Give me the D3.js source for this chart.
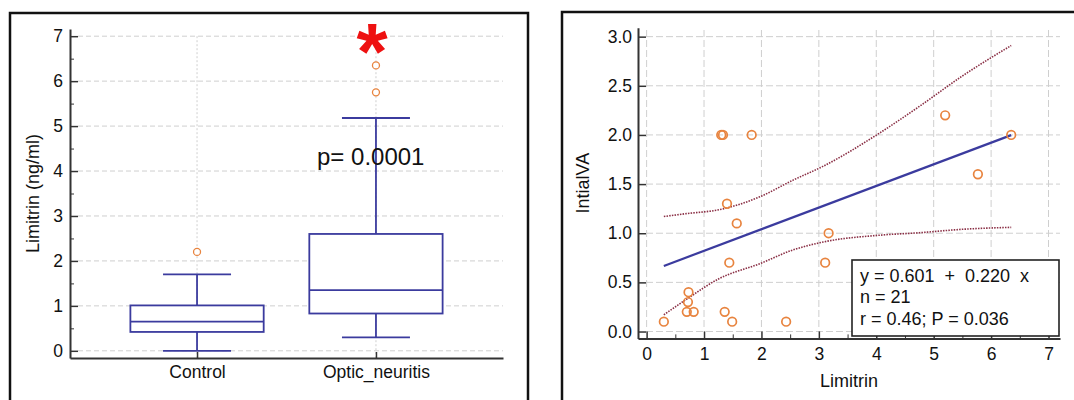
<!DOCTYPE html>
<html>
<head>
<meta charset="utf-8">
<script src="https://cdn.jsdelivr.net/npm/d3@7"></script>
<style>
  body { margin: 0; background: #fff; }
  svg { display: block; font-family: "Liberation Sans", Arial, sans-serif; }
  .grid line { stroke: #cfcfcf; stroke-width: 1; }
  .axis path, .axis line { stroke: #333; }
  .axis path { stroke-width: 2; }
  .axis text { fill: #111; }
</style>
</head>
<body>
<div id="container"></div>
<script>
// ---- left panel: box plot data ----
var categories = ["Control", "Optic_neuritis"];
var boxMin = [0, 0.3];
var boxQ1 = [0.42, 0.83];
var boxMedian = [0.65, 1.35];
var boxQ3 = [1.01, 2.6];
var boxMax = [1.7, 5.18];
var boxOutliers = [[2.2], [5.75, 6.35]];
var leftTicks = [0, 1, 2, 3, 4, 5, 6, 7];
var leftMinor = [0.5, 1.5, 2.5, 3.5, 4.5, 5.5, 6.5];

// ---- right panel: scatter data ----
var scatterX = [0.3, 0.73, 0.72, 0.7, 0.82, 1.3, 1.33, 1.83, 1.4, 1.57, 1.44, 1.36, 1.49, 2.43, 3.17, 3.11, 5.2, 5.77, 6.35];
var scatterY = [0.1, 0.4, 0.3, 0.2, 0.2, 2.0, 2.0, 2.0, 1.3, 1.1, 0.7, 0.2, 0.1, 0.1, 1.0, 0.7, 2.2, 1.6, 2.0];
var fitX = [0.3, 6.35];
var fitY = [0.667, 1.998];
var bandX = [0.3, 0.7, 1.27, 1.97, 2.55, 3.07, 4.06, 4.75, 5.5, 6.35];
var upperY = [1.17, 1.2, 1.24, 1.37, 1.54, 1.68, 2.02, 2.29, 2.6, 2.91];
var lowerY = [0.17, 0.33, 0.54, 0.69, 0.83, 0.91, 0.98, 1.005, 1.04, 1.06];
var rightYTicks = [0, 0.5, 1, 1.5, 2, 2.5, 3];
var rightXTicks = [0, 1, 2, 3, 4, 5, 6, 7];
var rightXMinor = [0.5, 1.5, 2.5, 3.5, 4.5, 5.5, 6.5];
var statLines = ["y = 0.601  +  0.220  x", "n = 21", "r = 0.46; P = 0.036"];

var boxColor = "#3b3b9e", dotColor = "#e8843f";

var svg = d3.select("#container").append("svg")
    .attr("width", 1074).attr("height", 400);
svg.append("rect").attr("width", 1074).attr("height", 400).attr("fill", "#fff");

// panel frames
svg.append("rect").attr("x", 10).attr("y", 13).attr("width", 518).attr("height", 400)
    .attr("fill", "none").attr("stroke", "#111").attr("stroke-width", 2.5);
svg.append("rect").attr("x", 562).attr("y", 12).attr("width", 530).attr("height", 400)
    .attr("fill", "none").attr("stroke", "#111").attr("stroke-width", 2.5);

// =================== left: box plot ===================
var yL = d3.scaleLinear().domain([-0.16, 7.16]).range([358, 29]);
var xL = d3.scalePoint().domain(categories).range([70, 503]).padding(0.71);
var step = xL.step();

var gl = svg.append("g");
gl.append("g").attr("class", "grid").selectAll("line").data(leftTicks).join("line")
    .attr("x1", 78).attr("x2", 503).attr("y1", function(d){ return yL(d); }).attr("y2", function(d){ return yL(d); })
    .attr("stroke-dasharray", "5,3");
gl.append("g").attr("class", "grid").selectAll("line").data(categories).join("line")
    .attr("x1", function(d){ return xL(d); }).attr("x2", function(d){ return xL(d); })
    .attr("y1", yL(7)).attr("y2", 358).attr("stroke-dasharray", "2,2");

gl.append("g").attr("class", "axis").attr("transform", "translate(70,0)")
    .call(d3.axisLeft(yL).tickValues(leftTicks).tickSizeInner(-8).tickSizeOuter(0).tickPadding(7))
    .call(function(g){ g.selectAll("text").attr("font-size", 17.5); g.selectAll(".tick line").attr("stroke-width", 1.5); });
gl.append("g").attr("class", "axis").attr("transform", "translate(70,0)")
    .call(d3.axisLeft(yL).tickValues(leftMinor).tickSizeInner(-4).tickSizeOuter(0).tickFormat(""))
    .call(function(g){ g.select(".domain").remove(); });
gl.append("g").attr("class", "axis").attr("transform", "translate(0,358)")
    .call(d3.axisBottom(xL).tickSizeInner(-6).tickSizeOuter(0).tickPadding(8))
    .call(function(g){ g.selectAll("text").attr("font-size", 17.5); g.selectAll(".tick line").attr("stroke-width", 1.5); });

gl.append("text").attr("transform", "translate(33," + ((358 + 29) / 2) + ") rotate(-90)")
    .attr("text-anchor", "middle").attr("dominant-baseline", "central")
    .attr("font-size", 18).attr("fill", "#111").text("Limitrin (ng/ml)");

var boxW = step * 0.745, capW = step * 0.38;
var boxes = gl.selectAll(".box").data(categories).join("g").attr("class", "box")
    .attr("stroke", boxColor).attr("stroke-width", 1.8).attr("fill", "none");
boxes.each(function(c, i){
    var g = d3.select(this), cx = xL(c);
    g.append("line").attr("x1", cx).attr("x2", cx).attr("y1", yL(boxQ3[i])).attr("y2", yL(boxMax[i]));
    g.append("line").attr("x1", cx).attr("x2", cx).attr("y1", yL(boxQ1[i])).attr("y2", yL(boxMin[i]));
    g.append("line").attr("x1", cx - capW / 2).attr("x2", cx + capW / 2).attr("y1", yL(boxMax[i])).attr("y2", yL(boxMax[i]));
    g.append("line").attr("x1", cx - capW / 2).attr("x2", cx + capW / 2).attr("y1", yL(boxMin[i])).attr("y2", yL(boxMin[i]));
    g.append("rect").attr("x", cx - boxW / 2).attr("width", boxW)
        .attr("y", yL(boxQ3[i])).attr("height", yL(boxQ1[i]) - yL(boxQ3[i])).attr("fill", "#fff");
    g.append("line").attr("x1", cx - boxW / 2).attr("x2", cx + boxW / 2).attr("y1", yL(boxMedian[i])).attr("y2", yL(boxMedian[i]));
    g.selectAll("circle").data(boxOutliers[i]).join("circle")
        .attr("cx", cx).attr("cy", function(d){ return yL(d); }).attr("r", 3.5)
        .attr("fill", "#fff").attr("stroke", dotColor).attr("stroke-width", 1.3);
});

gl.append("text").attr("x", xL("Optic_neuritis") - 4).attr("y", 79).attr("text-anchor", "middle")
    .attr("font-size", 80).attr("font-weight", "bold").attr("fill", "#ee1111").text("*");
gl.append("text").attr("x", 317).attr("y", 165).attr("font-size", 24).attr("fill", "#111").text("p= 0.0001");

// =================== right: scatter ===================
var xR = d3.scaleLinear().domain([-0.15, 7.2]).range([638, 1060]);
var yR = d3.scaleLinear().domain([-0.07, 3.09]).range([338.4, 27.8]);

var gr = svg.append("g");
gr.append("g").attr("class", "grid").selectAll("line").data(rightYTicks).join("line")
    .attr("x1", 646).attr("x2", 1060).attr("y1", function(d){ return yR(d); }).attr("y2", function(d){ return yR(d); })
    .attr("stroke-dasharray", "7,3");
gr.append("g").attr("class", "grid").selectAll("line").data(rightXTicks).join("line")
    .attr("x1", function(d){ return xR(d); }).attr("x2", function(d){ return xR(d); })
    .attr("y1", 30).attr("y2", 330).attr("stroke-dasharray", "7,3");

gr.append("g").attr("class", "axis").attr("transform", "translate(638,0)")
    .call(d3.axisLeft(yR).tickValues(rightYTicks).tickFormat(d3.format(".1f")).tickSizeInner(-8).tickSizeOuter(0).tickPadding(6))
    .call(function(g){ g.selectAll("text").attr("font-size", 17.5); g.selectAll(".tick line").attr("stroke-width", 1.5); });
gr.append("g").attr("class", "axis").attr("transform", "translate(0,338.4)")
    .call(d3.axisBottom(xR).tickValues(rightXTicks).tickSizeInner(-7).tickSizeOuter(0).tickPadding(9))
    .call(function(g){ g.selectAll("text").attr("font-size", 17.5); g.selectAll(".tick line").attr("stroke-width", 1.5); });
gr.append("g").attr("class", "axis").attr("transform", "translate(0,338.4)")
    .call(d3.axisBottom(xR).tickValues(rightXMinor).tickSizeInner(-4).tickSizeOuter(0).tickFormat(""))
    .call(function(g){ g.select(".domain").remove(); });

gr.append("text").attr("transform", "translate(583," + ((338.4 + 27.8) / 2) + ") rotate(-90)")
    .attr("text-anchor", "middle").attr("dominant-baseline", "central")
    .attr("font-size", 18).attr("fill", "#111").text("IntialVA");
gr.append("text").attr("x", (638 + 1060) / 2).attr("y", 387).attr("text-anchor", "middle")
    .attr("font-size", 18).attr("fill", "#111").text("Limitrin");

var bandLine = d3.line().x(function(d){ return xR(d[0]); }).y(function(d){ return yR(d[1]); }).curve(d3.curveMonotoneX);
[upperY, lowerY].forEach(function(ys){
    gr.append("path").datum(bandX.map(function(x, i){ return [x, ys[i]]; }))
        .attr("d", bandLine).attr("fill", "none").attr("stroke", "#8a2f45")
        .attr("stroke-width", 1.6).attr("stroke-dasharray", "1.5,1.2");
});
gr.append("path").datum(fitX.map(function(x, i){ return [x, fitY[i]]; }))
    .attr("d", bandLine).attr("fill", "none").attr("stroke", boxColor).attr("stroke-width", 2.2);

gr.selectAll(".dot").data(scatterX).join("circle").attr("class", "dot")
    .attr("cx", function(d){ return xR(d); }).attr("cy", function(d, i){ return yR(scatterY[i]); })
    .attr("r", 4.3).attr("fill", "none").attr("stroke", dotColor).attr("stroke-width", 1.7);

// stats box
var lg = gr.append("g");
lg.append("rect").attr("x", 852).attr("y", 260).attr("width", 207).attr("height", 76)
    .attr("fill", "#fff").attr("stroke", "#222").attr("stroke-width", 1.6);
lg.selectAll("text").data(statLines).join("text")
    .attr("x", 860).attr("y", function(d, i){ return 282 + i * 21.3; })
    .attr("font-size", 18).attr("fill", "#111").style("white-space", "pre")
    .attr("xml:space", "preserve").text(function(d){ return d; });
</script>
</body>
</html>
